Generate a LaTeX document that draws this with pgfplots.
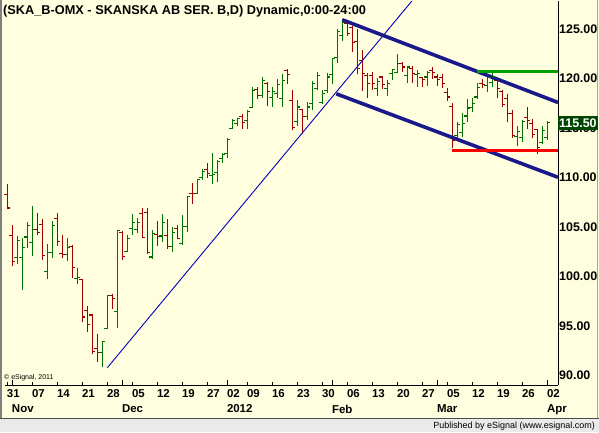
\documentclass[border=0pt]{standalone}
\usepackage{pgfplots}
\pgfplotsset{compat=1.18}
\usepackage{pgfplotstable}
\usepackage{fontspec}
\setmainfont{Liberation Sans}
\definecolor{bg}{RGB}{255,255,224}
\definecolor{upg}{RGB}{0,112,0}
\definecolor{dnr}{RGB}{160,0,0}
\definecolor{chan}{RGB}{25,25,140}
\definecolor{trend}{RGB}{0,0,190}
\definecolor{resg}{RGB}{0,160,0}
\definecolor{supr}{RGB}{255,0,0}
\definecolor{lastg}{RGB}{0,70,0}
\definecolor{band}{RGB}{234,234,234}
\pgfdeclareplotmark{tickL}{\pgfpathmoveto{\pgfpoint{-3bp}{0pt}}\pgfpathlineto{\pgfpoint{0pt}{0pt}}\pgfusepathqstroke}
\pgfdeclareplotmark{tickR}{\pgfpathmoveto{\pgfpoint{0pt}{0pt}}\pgfpathlineto{\pgfpoint{3bp}{0pt}}\pgfusepathqstroke}

\pgfplotstableread{
x lo hi o c
2 101.26 104.02 101.87 103.62
3 98.64 103.89 101.87 102.88
4 102.85 105.44 103.96 105.10
5 102.04 107.05 103.42 104.70
8 99.71 103.28 100.49 102.41
9 101.84 105.57 102.41 105.13
12 101.53 103.82 102.17 102.88
14 99.24 100.79 99.75 99.85
19 90.82 93.45 92.27 93.42
20 94.70 98.06 94.70 98.06
22 94.76 104.63 96.45 104.63
24 102.44 104.12 102.51 103.79
25 104.22 106.31 104.80 105.47
26 104.36 105.87 104.73 105.40
29 101.77 104.70 101.94 104.36
31 103.45 106.31 104.06 105.40
33 102.44 104.97 103.01 104.46
35 103.18 106.24 103.28 105.03
36 104.46 108.06 105.03 108.06
38 108.33 109.75 108.33 109.75
39 109.75 110.79 109.95 110.59
41 109.28 112.44 110.18 110.25
42 109.51 111.70 110.52 111.63
43 111.43 112.44 111.87 112.30
44 111.94 113.95 112.44 113.79
45 114.83 115.91 114.90 115.74
46 115.23 115.98 115.40 115.91
48 114.90 116.75 115.74 116.65
49 117.02 119.17 117.02 118.77
51 118.03 120.12 118.26 119.78
53 117.15 119.11 118.03 118.70
54 118.03 119.88 118.50 119.38
55 117.09 120.45 117.93 119.78
58 115.23 117.76 115.64 117.09
60 115.74 117.59 116.14 117.09
61 116.75 119.71 117.49 119.51
62 118.77 120.62 118.94 120.28
63 117.36 118.77 117.59 118.50
64 118.50 120.52 118.77 120.12
65 119.38 122.07 120.38 121.97
66 121.50 125.00 122.14 124.76
67 123.80 125.95 124.32 125.67
74 118.26 120.05 118.94 119.71
76 118.26 119.85 118.94 119.51
77 119.85 120.96 120.45 120.86
78 120.52 122.47 120.62 121.46
80 119.51 121.29 120.28 121.13
82 119.11 120.79 120.35 120.45
84 119.27 120.72 120.12 120.62
90 113.79 115.57 114.22 115.34
91 114.06 116.48 114.56 115.47
92 115.57 117.93 116.20 117.00
93 116.58 118.03 117.02 117.49
94 117.93 119.51 118.10 119.04
96 118.60 120.39 119.27 120.05
97 119.17 120.52 119.61 120.18
102 113.11 115.13 114.12 114.66
103 113.55 115.81 113.99 115.67
107 113.32 115.13 113.55 114.73
108 113.79 115.64 113.99 115.50
}\up

\pgfplotstableread{
x lo hi o c
0 106.78 109.28 108.27 106.90
1 100.99 105.13 104.12 101.50
6 104.12 106.38 104.70 104.43
7 101.60 105.81 105.24 102.10
10 103.01 106.41 105.81 103.52
11 101.84 104.12 102.31 102.17
13 99.81 103.11 103.01 100.86
15 95.37 99.71 99.68 95.88
16 94.36 96.95 96.55 95.13
17 92.17 96.15 96.08 92.41
18 91.33 94.19 92.68 92.27
21 96.72 98.23 98.06 97.73
23 101.60 104.60 104.39 102.00
27 103.85 106.88 106.31 103.95
28 102.27 106.88 106.41 102.44
30 103.05 105.54 104.22 104.02
32 102.78 105.74 104.12 103.01
34 103.79 105.13 104.86 103.85
37 107.26 109.41 108.40 108.33
40 109.92 111.43 110.79 110.42
47 114.90 116.41 116.14 115.57
50 117.93 119.11 118.84 118.26
52 117.25 119.61 119.51 118.70
56 119.44 120.96 120.79 120.38
57 114.80 118.77 117.76 115.00
59 114.33 116.92 116.82 116.14
68 124.32 125.67 125.50 124.49
69 122.64 125.33 125.17 123.65
70 120.40 124.99 123.70 121.00
71 118.70 122.81 121.80 120.45
72 118.03 120.52 120.28 119.51
73 118.84 120.62 120.28 119.44
75 118.94 120.28 120.12 119.34
79 120.62 121.63 121.53 121.13
81 119.51 121.29 120.96 120.45
83 119.17 120.18 120.05 119.85
85 119.95 121.13 120.79 120.62
86 119.27 120.45 120.12 119.85
87 119.04 120.45 120.05 119.44
88 117.72 119.00 118.60 118.10
89 113.00 117.50 117.15 113.72
95 119.04 119.95 119.51 119.38
98 118.03 119.95 119.78 118.94
99 117.15 118.77 118.70 117.36
100 115.57 118.43 117.93 116.41
101 113.99 116.82 116.41 114.22
104 114.90 117.09 116.01 115.74
105 113.99 115.91 115.40 114.33
106 112.37 114.90 114.80 112.98
}\down

\begin{document}
\begin{tikzpicture}[x=1bp,y=1bp]
\fill[bg] (0,0) rectangle (599,432);
\path[use as bounding box] (0,0) rectangle (599,432);
\fill[band] (0,0) rectangle (599,14);
\draw[black!70, line width=1bp] (0,14) -- (599,14);
\draw[gray, line width=2bp] (1,14) -- (1,432);
\draw[black!35, line width=1.5bp] (597.5,14) -- (597.5,432);
\begin{axis}[
  at={(1,47)}, anchor=south west,
  scale only axis, width=553bp, height=384bp,
  xmin=-0.46, xmax=110.14, ymin=88.97, ymax=127.76,
  axis x line*=bottom, axis y line*=right,
  axis line style={black, line width=1bp},
  tick align=inside,
  xtick={0,5,10,15,20,25,30,35,40,44,48,53,58,63,68,73,78,83,88,93,98,103,108},
  xticklabels={31,07,14,21,28,05,12,19,27,02,09,16,23,30,06,13,20,27,05,12,19,26,02},
  xtick style={black, line width=0.8bp},
  major tick length=3bp,
  xticklabel style={anchor=north west, inner sep=0pt, xshift=-0.5bp, yshift=-3.7bp,
    font=\bfseries\fontsize{11.5}{12}\selectfont},
  extra x ticks={1,23,44,65,86,108},
  extra x tick labels={Nov,Dec,2012,Feb,Mar,Apr},
  extra x tick style={major tick length=5bp, xticklabel style={yshift=-15.6bp}},
  ytick={90,95,100,105,110,115,120,125},
  yticklabels={90.00,95.00,100.00,105.00,110.00,115.00,120.00,125.00},
  ytick style={draw=none},
  yticklabel style={anchor=west, inner sep=0pt, xshift=1bp,
    font=\bfseries\fontsize{12.5}{13}\selectfont},
  extra y ticks={115.5},
  extra y tick labels={115.50},
  extra y tick style={yticklabel style={fill=lastg, text=white, inner xsep=1.5bp, inner ysep=2.5bp, xshift=-1.5bp}},
  clip=true,
]
% high-low lines
\addplot[draw=none, mark=none, forget plot,
  error bars/.cd, y dir=plus, y explicit, error mark=none,
  error bar style={draw=upg, line width=1.2bp}]
  table[x=x, y=lo, y error expr=\thisrow{hi}-\thisrow{lo}] {\up};
\addplot[draw=none, mark=none, forget plot,
  error bars/.cd, y dir=plus, y explicit, error mark=none,
  error bar style={draw=dnr, line width=1.2bp}]
  table[x=x, y=lo, y error expr=\thisrow{hi}-\thisrow{lo}] {\down};
% open / close ticks
\addplot[only marks, mark=tickL, mark options={draw=upg, line width=1.2bp}] table[x=x, y=o] {\up};
\addplot[only marks, mark=tickR, mark options={draw=upg, line width=1.2bp}] table[x=x, y=c] {\up};
\addplot[only marks, mark=tickL, mark options={draw=dnr, line width=1.2bp}] table[x=x, y=o] {\down};
\addplot[only marks, mark=tickR, mark options={draw=dnr, line width=1.2bp}] table[x=x, y=c] {\down};
% trend lines
\addplot[trend, line width=0.9bp] coordinates {(20,90.76) (81,127.86)};
\addplot[chan, line width=3.6bp] coordinates {(67,125.91) (110.14,117.56)};
\addplot[chan, line width=3.6bp] coordinates {(65.8,118.43) (110.14,110.0)};
\addplot[resg, line width=3bp] coordinates {(93.9,120.69) (110.14,120.69)};
\addplot[supr, line width=3bp] coordinates {(88.9,112.71) (110.14,112.71)};
\end{axis}
\node[anchor=base west, inner sep=0pt, font=\bfseries\fontsize{12.8}{13}\selectfont] at (3,417) {(SKA\_B-OMX - SKANSKA AB SER. B,D) Dynamic,0:00-24:00};
\node[anchor=base west, inner sep=0pt, font=\fontsize{7}{7}\selectfont] at (4,53) {© eSignal, 2011};
\node[anchor=base east, inner sep=0pt, font=\fontsize{9}{9}\selectfont] at (595,4) {Published by eSignal (www.esignal.com)};
\end{tikzpicture}
\end{document}
